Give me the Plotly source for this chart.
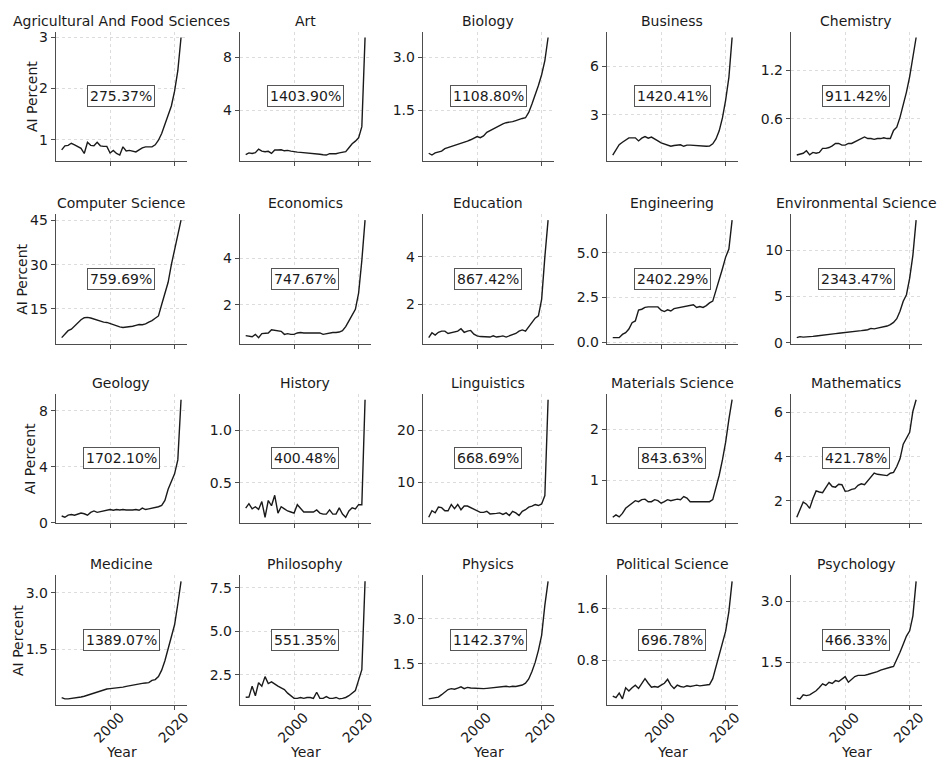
import plotly.graph_objects as go

years = list(range(1985, 2023))

subjects = ["Agricultural And Food Sciences", "Art", "Biology", "Business", "Chemistry",
            "Computer Science", "Economics", "Education", "Engineering", "Environmental Science",
            "Geology", "History", "Linguistics", "Materials Science", "Mathematics",
            "Medicine", "Philosophy", "Physics", "Political Science", "Psychology"]

agri = [0.80, 0.88, 0.89, 0.93, 0.90, 0.87, 0.83, 0.73, 0.95, 0.89,
        0.88, 0.95, 0.88, 0.87, 0.87, 0.74, 0.79, 0.73, 0.70, 0.86,
        0.78, 0.79, 0.78, 0.76, 0.80, 0.84, 0.86, 0.86, 0.86, 0.90,
        0.99, 1.12, 1.30, 1.48, 1.66, 1.95, 2.35, 3.00]
art = [0.63, 0.76, 0.72, 0.78, 1.05, 0.90, 0.85, 0.88, 0.72, 0.98,
       0.98, 1.00, 0.92, 0.95, 0.90, 0.84, 0.82, 0.80, 0.78, 0.76,
       0.76, 0.72, 0.70, 0.66, 0.62, 0.60, 0.70, 0.68, 0.70, 0.76,
       0.80, 0.86, 1.15, 1.45, 1.65, 1.90, 2.75, 9.50]
biology = [0.29, 0.24, 0.30, 0.32, 0.35, 0.42, 0.45, 0.48, 0.51, 0.53,
           0.56, 0.58, 0.63, 0.67, 0.72, 0.76, 0.73, 0.78, 0.88, 0.93,
           0.98, 1.03, 1.08, 1.12, 1.15, 1.16, 1.18, 1.21, 1.25, 1.27,
           1.29, 1.44, 1.68, 1.92, 2.20, 2.50, 2.90, 3.55]
business = [0.51, 0.85, 1.15, 1.30, 1.45, 1.57, 1.57, 1.57, 1.38, 1.55,
            1.65, 1.55, 1.62, 1.48, 1.38, 1.26, 1.20, 1.12, 1.05, 1.10,
            1.14, 1.14, 1.05, 1.12, 1.12, 1.10, 1.08, 1.06, 1.05, 1.05,
            1.06, 1.20, 1.50, 2.00, 2.80, 3.90, 5.30, 7.76]
chemistry = [0.158, 0.17, 0.18, 0.21, 0.16, 0.19, 0.18, 0.19, 0.24, 0.24,
             0.25, 0.27, 0.30, 0.30, 0.28, 0.28, 0.30, 0.30, 0.32, 0.33,
             0.35, 0.38, 0.36, 0.36, 0.35, 0.36, 0.36, 0.37, 0.36, 0.36,
             0.46, 0.50, 0.62, 0.76, 0.93, 1.12, 1.35, 1.60]
compsci = [5.25, 6.5, 7.6, 8.1, 9.2, 10.3, 11.3, 12.0, 12.1, 11.9,
           11.5, 11.1, 10.8, 10.5, 10.4, 10.0, 9.6, 9.2, 8.9, 8.7,
           8.8, 8.9, 9.1, 9.4, 9.7, 9.6, 9.9, 10.5, 11.0, 11.8,
           12.6, 16.5, 20.5, 24.0, 30.0, 35.0, 39.6, 45.1]
economics = [0.665, 0.65, 0.62, 0.72, 0.58, 0.75, 0.75, 0.78, 0.92, 0.90,
             0.85, 0.85, 0.72, 0.75, 0.72, 0.72, 0.78, 0.80, 0.78, 0.78,
             0.78, 0.80, 0.78, 0.78, 0.72, 0.75, 0.78, 0.80, 0.80, 0.82,
             0.88, 1.05, 1.30, 1.55, 1.80, 2.50, 3.90, 5.64]
education = [0.575, 0.78, 0.68, 0.80, 0.85, 0.85, 0.75, 0.78, 0.80, 0.85,
             0.95, 0.80, 0.85, 0.88, 0.72, 0.65, 0.62, 0.62, 0.62, 0.60,
             0.65, 0.60, 0.62, 0.65, 0.60, 0.65, 0.72, 0.75, 0.85, 0.90,
             0.85, 1.05, 1.25, 1.40, 1.50, 2.20, 4.00, 5.56]
engineering = [0.272, 0.28, 0.27, 0.45, 0.55, 0.75, 1.10, 1.20, 1.80, 1.85,
               1.95, 1.98, 1.98, 1.97, 1.98, 1.80, 1.72, 1.82, 1.75, 1.88,
               1.92, 1.95, 2.00, 2.05, 2.05, 2.10, 1.95, 2.00, 1.95, 2.05,
               2.20, 2.30, 2.90, 3.45, 4.10, 4.75, 5.20, 6.81]
environ = [0.545, 0.65, 0.60, 0.60, 0.62, 0.68, 0.72, 0.75, 0.80, 0.85,
           0.90, 0.95, 0.98, 1.02, 1.05, 1.10, 1.15, 1.18, 1.22, 1.25,
           1.30, 1.35, 1.40, 1.55, 1.50, 1.58, 1.65, 1.70, 1.80, 1.95,
           2.20, 2.60, 3.40, 4.50, 5.20, 7.00, 9.50, 13.3]
geology = [0.49, 0.40, 0.55, 0.60, 0.55, 0.60, 0.70, 0.65, 0.55, 0.75,
           0.85, 0.75, 0.80, 0.82, 0.90, 0.95, 0.90, 0.95, 0.92, 0.95,
           0.92, 0.90, 0.92, 0.95, 0.90, 1.05, 0.95, 1.00, 1.05, 1.05,
           1.15, 1.25, 1.60, 2.40, 3.00, 3.50, 4.50, 8.80]
history = [0.258, 0.30, 0.25, 0.27, 0.245, 0.32, 0.17, 0.33, 0.28, 0.38,
           0.21, 0.27, 0.25, 0.23, 0.22, 0.21, 0.29, 0.26, 0.22, 0.22,
           0.22, 0.22, 0.24, 0.21, 0.20, 0.20, 0.24, 0.20, 0.20, 0.26,
           0.20, 0.17, 0.23, 0.26, 0.25, 0.29, 0.29, 1.293]
linguistics = [3.36, 4.6, 4.2, 5.3, 5.2, 4.6, 4.6, 5.8, 5.0, 5.8,
               4.8, 5.5, 5.5, 5.2, 5.0, 4.6, 4.3, 4.3, 4.5, 4.0,
               4.0, 4.1, 4.2, 3.9, 4.2, 3.7, 4.5, 4.2, 3.7, 4.5,
               4.8, 5.3, 5.5, 5.8, 5.6, 5.9, 7.5, 25.83]
materials = [0.274, 0.32, 0.28, 0.35, 0.45, 0.50, 0.55, 0.60, 0.58, 0.62,
             0.63, 0.58, 0.58, 0.62, 0.60, 0.55, 0.58, 0.62, 0.60, 0.62,
             0.63, 0.62, 0.68, 0.65, 0.58, 0.58, 0.58, 0.58, 0.58, 0.58,
             0.58, 0.62, 0.85, 1.10, 1.40, 1.75, 2.20, 2.585]
mathematics = [1.26, 1.60, 1.95, 1.85, 1.66, 2.10, 2.45, 2.40, 2.37, 2.60,
               2.82, 2.65, 2.62, 2.75, 2.73, 2.43, 2.45, 2.52, 2.55, 2.70,
               2.77, 2.73, 2.90, 3.10, 3.26, 3.20, 3.17, 3.15, 3.14, 3.25,
               3.29, 3.55, 3.90, 4.56, 4.85, 5.10, 6.05, 6.57]
medicine = [0.2215, 0.19, 0.19, 0.20, 0.21, 0.22, 0.24, 0.26, 0.29, 0.32,
            0.35, 0.37, 0.40, 0.43, 0.45, 0.46, 0.47, 0.48, 0.48, 0.50,
            0.52, 0.54, 0.56, 0.58, 0.59, 0.60, 0.61, 0.62, 0.68, 0.70,
            0.78, 0.95, 1.20, 1.50, 1.80, 2.15, 2.70, 3.30]
philosophy = [1.21, 1.22, 1.85, 1.30, 2.05, 1.85, 2.40, 2.00, 2.10, 1.95,
              1.85, 1.75, 1.65, 1.45, 1.30, 1.15, 1.15, 1.20, 1.15, 1.20,
              1.20, 1.15, 1.50, 1.15, 1.15, 1.25, 1.15, 1.15, 1.20, 1.12,
              1.15, 1.20, 1.30, 1.45, 1.60, 2.20, 2.80, 7.88]
physics = [0.341, 0.36, 0.37, 0.40, 0.48, 0.58, 0.65, 0.68, 0.66, 0.70,
           0.74, 0.68, 0.72, 0.70, 0.69, 0.68, 0.68, 0.68, 0.69, 0.70,
           0.71, 0.72, 0.74, 0.75, 0.76, 0.74, 0.76, 0.75, 0.78, 0.80,
           0.86, 1.00, 1.25, 1.55, 1.95, 2.45, 3.45, 4.24]
polisci = [0.253, 0.23, 0.30, 0.21, 0.38, 0.33, 0.38, 0.42, 0.37, 0.45,
           0.52, 0.45, 0.39, 0.40, 0.39, 0.42, 0.45, 0.51, 0.42, 0.37,
           0.42, 0.40, 0.39, 0.41, 0.40, 0.41, 0.42, 0.41, 0.42, 0.42,
           0.43, 0.52, 0.70, 0.90, 1.08, 1.25, 1.55, 2.015]
psychology = [0.618, 0.60, 0.70, 0.68, 0.70, 0.75, 0.80, 0.88, 0.97, 0.93,
              1.01, 0.98, 1.05, 1.03, 1.08, 1.15, 1.01, 1.08, 1.15, 1.18,
              1.18, 1.18, 1.20, 1.22, 1.24, 1.27, 1.31, 1.34, 1.36, 1.38,
              1.40, 1.56, 1.75, 1.95, 2.15, 2.28, 2.65, 3.50]

series = [agri, art, biology, business, chemistry,
          compsci, economics, education, engineering, environ,
          geology, history, linguistics, materials, mathematics,
          medicine, philosophy, physics, polisci, psychology]

pct_labels = ["275.37%", "1403.90%", "1108.80%", "1420.41%", "911.42%",
              "759.69%", "747.67%", "867.42%", "2402.29%", "2343.47%",
              "1702.10%", "400.48%", "668.69%", "843.63%", "421.78%",
              "1389.07%", "551.35%", "1142.37%", "696.78%", "466.33%"]

ytick_vals = [[1, 2, 3], [4, 8], [1.5, 3.0], [3, 6], [0.6, 1.2],
              [15, 30, 45], [2, 4], [2, 4], [0.0, 2.5, 5.0], [0, 5, 10],
              [0, 4, 8], [0.5, 1.0], [10, 20], [1, 2], [2, 4, 6],
              [1.5, 3.0], [2.5, 5.0, 7.5], [1.5, 3.0], [0.8, 1.6], [1.5, 3.0]]
ytick_text = [["1", "2", "3"], ["4", "8"], ["1.5", "3.0"], ["3", "6"], ["0.6", "1.2"],
              ["15", "30", "45"], ["2", "4"], ["2", "4"], ["0.0", "2.5", "5.0"], ["0", "5", "10"],
              ["0", "4", "8"], ["0.5", "1.0"], ["10", "20"], ["1", "2"], ["2", "4", "6"],
              ["1.5", "3.0"], ["2.5", "5.0", "7.5"], ["1.5", "3.0"], ["0.8", "1.6"], ["1.5", "3.0"]]
xtick_vals = [2000, 2020]
xtick_text = ["2000", "2020"]

W, H = 945, 769
col_left = [56, 241, 425, 610, 795]
row_top = [30, 215, 397, 581]
ylabel_x = [32, 22, 31, 18]
pw, ph = 132, 131

FONT = "DejaVu Sans"
TXT = "#1a1a1a"
AX = "#4d4d4d"

fig = go.Figure()
annotations = []
xspan = years[-1] - years[0]
xr = [years[0] - 0.05 * xspan, years[-1] + 0.05 * xspan]

for i, (name, vals) in enumerate(zip(subjects, series)):
    r, c = divmod(i, 5)
    sfx = "" if i == 0 else str(i + 1)
    xa, ya = "x" + sfx, "y" + sfx
    fig.add_trace(go.Scatter(x=years, y=vals, mode="lines",
                             line=dict(color="#1a1a1a", width=1.4),
                             xaxis=xa, yaxis=ya, showlegend=False,
                             hoverinfo="x+y"))
    lo, hi = min(vals), max(vals)
    yr = [lo - 0.05 * (hi - lo), hi + 0.05 * (hi - lo)]
    left = col_left[c]
    top = row_top[r]
    bottom_row = (r == 3)
    fig.layout["xaxis" + sfx] = dict(
        domain=[left / W, (left + pw) / W], range=xr, anchor=ya,
        tickvals=xtick_vals, ticktext=xtick_text, showticklabels=bottom_row,
        tickangle=-45, ticklabelshift=10, ticklabelstandoff=-6,
        showgrid=True, gridcolor="#dcdcdc", griddash="dot", gridwidth=1,
        showline=True, linecolor=AX, linewidth=1, zeroline=False,
        ticks="outside", ticklen=4, tickcolor=AX, tickwidth=1,
        tickfont=dict(family=FONT, size=14, color=TXT), fixedrange=True)
    fig.layout["yaxis" + sfx] = dict(
        domain=[1 - (top + ph) / H, 1 - top / H], range=yr, anchor=xa,
        tickvals=ytick_vals[i], ticktext=ytick_text[i],
        showgrid=True, gridcolor="#dcdcdc", griddash="dot", gridwidth=1,
        showline=True, linecolor=AX, linewidth=1, zeroline=False,
        ticks="outside", ticklen=4, tickcolor=AX, tickwidth=1,
        tickfont=dict(family=FONT, size=14, color=TXT), fixedrange=True)
    annotations.append(dict(text=name, xref=xa + " domain", yref=ya + " domain",
                            x=0.5, y=1, yanchor="bottom", xanchor="center",
                            yshift=1, showarrow=False,
                            font=dict(family=FONT, size=14, color=TXT)))
    annotations.append(dict(text=pct_labels[i], xref=xa + " domain", yref=ya + " domain",
                            x=0.5, y=0.5, xanchor="center", yanchor="middle",
                            showarrow=False, bgcolor="white", bordercolor="#555555",
                            borderwidth=1, borderpad=2,
                            font=dict(family=FONT, size=14, color=TXT)))
    if c == 0:
        annotations.append(dict(text="AI Percent", xref="paper", yref=ya + " domain",
                                x=ylabel_x[r] / W, y=0.5, xanchor="center", yanchor="middle",
                                textangle=-90, showarrow=False,
                                font=dict(family=FONT, size=14, color=TXT)))
    if bottom_row:
        annotations.append(dict(text="Year", xref=xa + " domain", yref="paper",
                                x=0.5, y=1 - 760 / H, xanchor="center", yanchor="middle",
                                showarrow=False,
                                font=dict(family=FONT, size=14, color=TXT)))

fig.update_layout(width=W, height=H, margin=dict(l=0, r=0, t=0, b=0),
                  paper_bgcolor="white", plot_bgcolor="white",
                  annotations=annotations, font=dict(family=FONT, size=14, color=TXT))

fig.write_html("out.html", config={"displayModeBar": False},
               post_script="document.body.style.margin='0';document.body.style.overflow='hidden';")
